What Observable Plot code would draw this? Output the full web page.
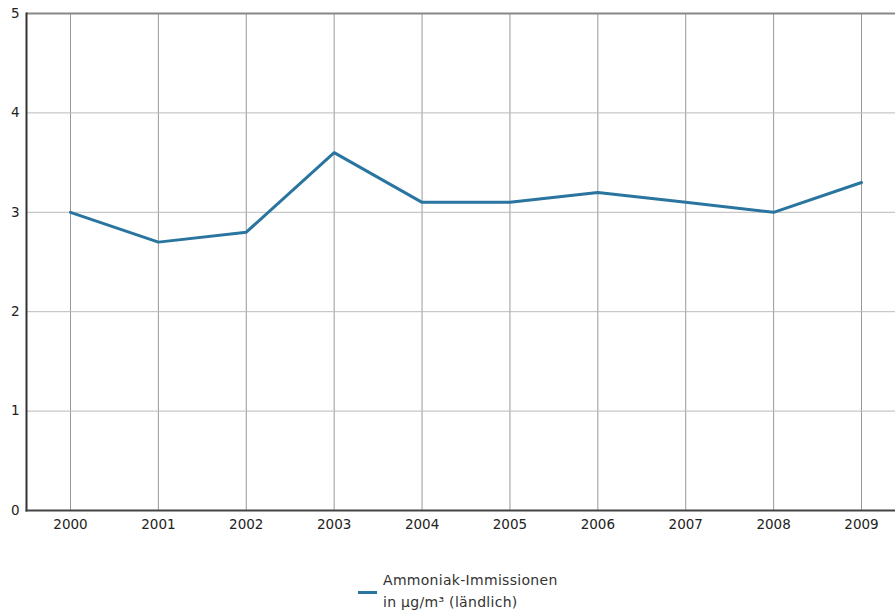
<!DOCTYPE html>
<html>
<head>
<meta charset="utf-8">
<script src="https://cdn.jsdelivr.net/npm/d3@7"></script>
<script src="https://cdn.jsdelivr.net/npm/@observablehq/plot@0.6"></script>
<style>
  html, body { margin: 0; padding: 0; background: #fff; overflow: hidden; }
  #chart { width: 895px; }
  #legend { position: relative; height: 56px; font-family: "DejaVu Sans", sans-serif; font-size: 14px; letter-spacing: 0.3px; color: #333; }
  #legend .swatch { position: absolute; left: 358px; top: 31px; width: 19px; height: 3px; background: #2a75a0; }
  #legend .label { position: absolute; left: 383px; top: 9px; line-height: 22px; }
</style>
</head>
<body>
<div id="chart"></div>
<script>
const years = [2000, 2001, 2002, 2003, 2004, 2005, 2006, 2007, 2008, 2009];
const values = [3.0, 2.7, 2.8, 3.6, 3.1, 3.1, 3.2, 3.1, 3.0, 3.3];
const yTicks = [0, 1, 2, 3, 4, 5];
const seriesLabel = ["Ammoniak-Immissionen", "in µg/m³ (ländlich)"];

const data = years.map((y, i) => ({year: y, value: values[i]}));

const plot = Plot.plot({
  width: 895,
  height: 560,
  marginTop: 13,
  marginBottom: 50,
  marginLeft: 26,
  marginRight: 0,
  style: {fontFamily: "DejaVu Sans, sans-serif", fontSize: "13.5px", color: "#333", background: "#fff"},
  x: {type: "point", domain: years, range: [70, 861], padding: 0, round: false},
  y: {domain: [0, 5]},
  marks: [
    Plot.gridX(years, {stroke: "#999", strokeOpacity: 1, strokeWidth: 1}),
    Plot.ruleY([1, 2, 3, 4], {stroke: "#bbb", strokeWidth: 1}),
    Plot.ruleY([5], {stroke: "#888", strokeWidth: 2}),
    Plot.frame({anchor: "left", stroke: "#333", strokeWidth: 2}),
    Plot.frame({anchor: "bottom", stroke: "#444", strokeWidth: 2}),
    Plot.axisX(years, {tickSize: 0, tickPadding: 9, label: null, tickFormat: d => String(d), fill: "#222"}),
    Plot.axisY(yTicks, {tickSize: 0, tickPadding: 7, label: null, tickFormat: d => String(d), fill: "#222"}),
    Plot.line(data, {x: "year", y: "value", stroke: "#2a75a0", strokeWidth: 3})
  ]
});
document.getElementById("chart").appendChild(plot);

const legend = document.createElement("div");
legend.id = "legend";
legend.innerHTML = `<div class="swatch"></div><div class="label">${seriesLabel[0]}<br>${seriesLabel[1]}</div>`;
document.body.appendChild(legend);
</script>
</body>
</html>
